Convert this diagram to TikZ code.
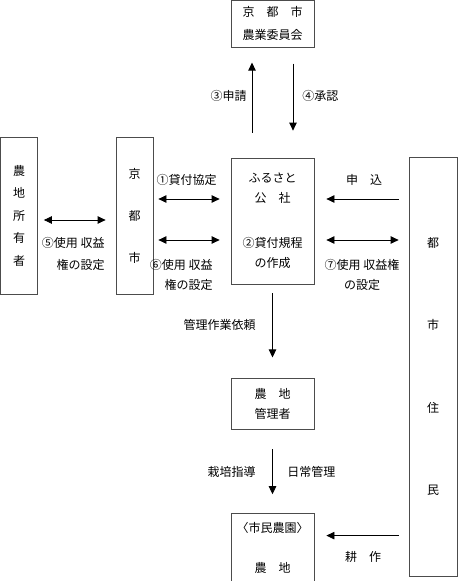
\documentclass[tikz,border=0pt]{standalone}
\usepackage{fontspec}
\setmainfont{Noto Sans CJK JP}
\usetikzlibrary{arrows.meta,positioning}

\begin{document}
\begin{tikzpicture}[x=1pt,y=1pt,node distance=94pt,
 font=\fontsize{12}{20}\selectfont,line width=0.8pt,
 box/.style={draw=black!70,align=center,inner sep=0pt,minimum width=83pt},
 tall/.style={box,minimum width=37pt,minimum height=157pt},
 lbl/.style={inner sep=0pt,align=#1},lbl/.default=center,
 lsp/.style={font=\fontsize{12}{#1}\selectfont},
 >={Triangle[length=8pt,width=7.5pt]}]
\useasboundingbox (0,0) rectangle (460,-581);
% center column
\node[box,minimum height=126pt] (kosha) at (272.5,-221) {ふるさと\\公　社\\[25pt]②貸付規程\\の作成};
\node[box,minimum height=47pt,lsp=23pt,above=110pt of kosha] (iinkai) {京　都　市\\農業委員会};
\node[box,minimum height=51pt,below=of kosha] (kanrisha) {農　地\\管理者};
\node[box,minimum height=68pt,below=83pt of kanrisha] (nouchi) {〈市民農園〉\\[20pt]農　地};
% side boxes
\node[tall,lsp=22.5pt] (owner) at (19,-215.5) {農\\地\\所\\有\\者};
\node[tall,lsp=42pt] (city) at (134.5,-215.5) {京\\都\\市};
\node[box,minimum width=48pt,minimum height=419pt,lsp=82.5pt] (jumin) at (433,-366.5) {都\\市\\住\\民};
% iinkai <-> kosha
\draw[->,shorten <=25pt,shorten >=15pt] ([xshift=-20.5pt]kosha.north) -- ([xshift=-20.5pt]iinkai.south);
\draw[->,shorten <=16pt,shorten >=27pt] ([xshift=20.5pt]iinkai.south) -- ([xshift=20.5pt]kosha.north);
\node[lbl,anchor=east] (l3) at (247,-96) {③申請};
\node[lbl,anchor=west] (l4) at (302,-96) {④承認};
% owner, city, kosha
\draw[<->,shorten <=6pt,shorten >=10pt] ([yshift=-4.5pt]owner.east) -- ([yshift=-4.5pt]city.west);
\node[lbl=right,lsp=22pt,anchor=east] (l5) at (105,-254) {⑤使用 収益\\権の設定};
\draw[<->,shorten <=5pt,shorten >=11pt] ([yshift=16.5pt]city.east) -- ([yshift=16.5pt]city.east -| kosha.west);
\node[lbl] (l1) at (186.5,-180) {①貸付協定};
\draw[<->,shorten <=5pt,shorten >=11pt] ([yshift=-24.5pt]city.east) -- ([yshift=-24.5pt]city.east -| kosha.west);
\node[lbl=right,anchor=east] (l6) at (213,-275) {⑥使用 収益\\権の設定};
% jumin -> kosha
\draw[->,shorten <=10pt,shorten >=12pt] ([yshift=22pt]kosha.east -| jumin.west) -- ([yshift=22pt]kosha.east);
\node[lbl] (moushi) at (364,-180) {申　込};
\draw[<->,shorten <=12pt,shorten >=10pt] ([yshift=-19pt]kosha.east) -- ([yshift=-19pt]kosha.east -| jumin.west);
\node[lbl] (l7) at (362,-275) {⑦使用 収益権\\の設定};
% downwards
\draw[->,shorten <=9pt,shorten >=21pt] (kosha.south) -- (kanrisha.north);
\node[lbl,anchor=east] (irai) at (256,-325) {管理作業依頼};
\draw[->,shorten <=19pt,shorten >=19pt] (kanrisha.south) -- (nouchi.north);
\node[lbl,anchor=east] (shido) at (256,-472) {栽培指導};
\node[lbl,anchor=west] (kanri) at (287,-472) {日常管理};
\draw[->,shorten <=10pt,shorten >=12pt] ([yshift=12pt]nouchi.east -| jumin.west) -- ([yshift=12pt]nouchi.east);
\node[lbl] (kousaku) at (363,-557) {耕　作};
\end{tikzpicture}
\end{document}
